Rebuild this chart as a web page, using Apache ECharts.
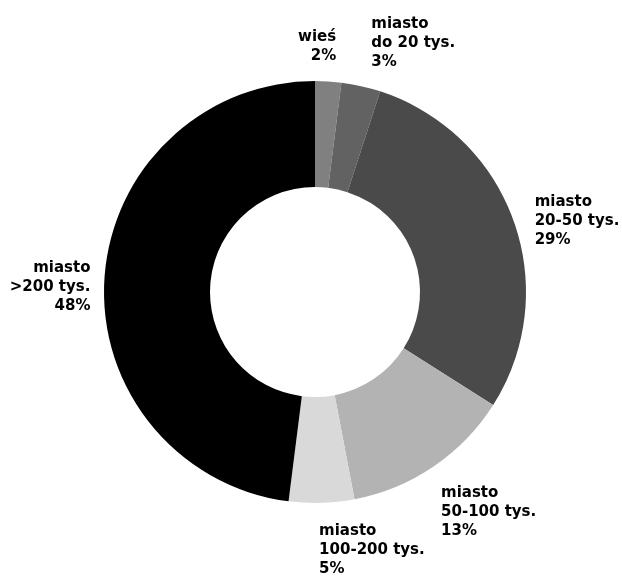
<!DOCTYPE html>
<html>
<head>
<meta charset="utf-8">
<script src="https://cdn.jsdelivr.net/npm/echarts@6/dist/echarts.min.js"></script>
<style>
  html, body { margin: 0; padding: 0; background: #ffffff; }
  #chart { width: 622px; height: 576px; }
</style>
</head>
<body>
<div id="chart"></div>
<script>
// Place of residence categories and their shares (%)
const categories = ['wieś', 'miasto\ndo 20 tys.', 'miasto\n20-50 tys.', 'miasto\n50-100 tys.', 'miasto\n100-200 tys.', 'miasto\n>200 tys.'];
const shares = [2, 3, 29, 13, 5, 48];

// Slice fills, in category order
const sliceColors = ['#808080', '#626262', '#4a4a4a', '#b3b3b3', '#d9d9d9', '#000000'];

// Ring geometry
const CENTER = [315, 292];
const R_IN = 105;
const R_OUT = 211;
const LABEL_R = 226;

// Label alignment and small offsets from the radial anchor point
const labelAlign = ['right', 'left', 'left', 'left', 'left', 'right'];
const labelVAlign = ['bottom', 'bottom', 'middle', 'top', 'top', 'middle'];
const labelNudge = [[7, -1], [7, 0], [7, 6], [-1, 5], [-3, 4], [1, 9]];

const total = shares.reduce((a, b) => a + b, 0);
const midAngles = [];
let acc = 0;
shares.forEach(v => {
  midAngles.push((acc + v / 2) / total * 2 * Math.PI);
  acc += v;
});

const chart = echarts.init(document.getElementById('chart'), null, { renderer: 'canvas' });

chart.setOption({
  animation: false,
  backgroundColor: '#ffffff',
  series: [{
    type: 'pie',
    center: CENTER,
    radius: [R_IN, R_OUT],
    startAngle: 90,
    clockwise: true,
    avoidLabelOverlap: false,
    itemStyle: { borderWidth: 0 },
    label: {
      show: true,
      position: 'outside',
      formatter: p => p.name + '\n' + p.value + '%',
      fontFamily: 'DejaVu Sans',
      fontWeight: 'bold',
      fontSize: 15,
      lineHeight: 19,
      color: '#000000'
    },
    labelLine: { show: false },
    labelLayout: params => {
      const i = params.dataIndex;
      const a = midAngles[i];
      return {
        x: CENTER[0] + LABEL_R * Math.sin(a) + labelNudge[i][0],
        y: CENTER[1] - LABEL_R * Math.cos(a) + labelNudge[i][1],
        align: labelAlign[i],
        verticalAlign: labelVAlign[i]
      };
    },
    emphasis: { disabled: true },
    data: categories.map((c, i) => ({
      name: c,
      value: shares[i],
      itemStyle: { color: sliceColors[i] }
    }))
  }]
});
</script>
</body>
</html>
